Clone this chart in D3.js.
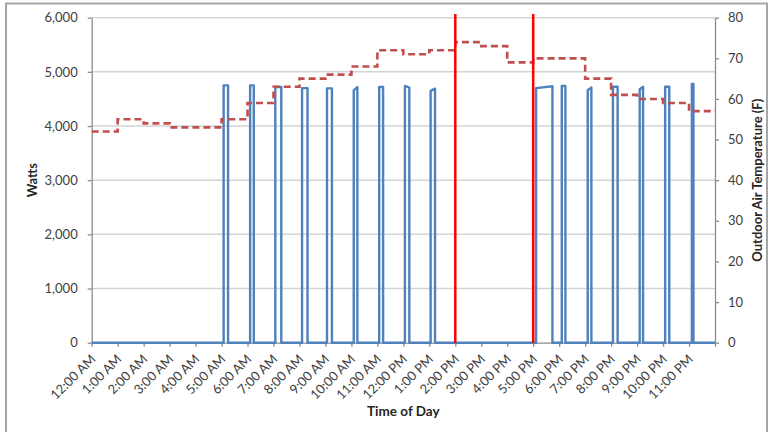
<!DOCTYPE html>
<html><head><meta charset="utf-8">
<script src="https://cdn.jsdelivr.net/npm/d3@7"></script>
<style>
body{margin:0;background:#fff;}
text{font-family:Lato,"Open Sans",sans-serif;}
</style>
</head><body>
<svg id="c" width="774" height="432"></svg>
<script>
// ---- data ----
const hourLabels = ["12:00 AM","1:00 AM","2:00 AM","3:00 AM","4:00 AM","5:00 AM","6:00 AM","7:00 AM","8:00 AM","9:00 AM","10:00 AM","11:00 AM","12:00 PM","1:00 PM","2:00 PM","3:00 PM","4:00 PM","5:00 PM","6:00 PM","7:00 PM","8:00 PM","9:00 PM","10:00 PM","11:00 PM"];
const wattTicks = [0,1000,2000,3000,4000,5000,6000];
const tempTicks = [0,10,20,30,40,50,60,70,80];
// hourly outdoor air temperature (F), value held for the hour
const tempHour = [0,1,2,3,4,5,6,7,8,9,10,11,12,13,14,15,16,17,18,19,20,21,22,23,24];
const tempF    = [52,55,54,53,53,55,59,63,65,66,68,72,71,72,74,73,69,70,70,65,61,60,59,57,57];
// compressor / load cycles (hours of day) and power (W)
const spikeOn   = [5.08,6.10,7.07,8.10,9.06,10.09,11.07,12.06,13.05,17.11,18.10,19.10,20.07,21.10,22.08,23.11];
const spikeOff  = [5.25,6.24,7.30,8.31,9.25,10.23,11.22,12.23,13.22,17.74,18.24,19.24,20.25,21.23,22.24,23.17];
const spikeOnW  = [4750,4750,4720,4700,4695,4660,4720,4740,4650,4700,4740,4660,4725,4680,4725,4775];
const spikeOffW = [4750,4750,4720,4700,4695,4720,4720,4710,4690,4735,4740,4710,4725,4725,4725,4775];
// demand-response window markers
const markerHours = [14,17];
const markerTopW = 6070;

// ---- chart ----
const svg = d3.select("#c");
const L = 91.7, R = 715, T = 17.7, B = 342.7;
const x = d3.scaleLinear().domain([0,24]).range([L,R]);
const yW = d3.scaleLinear().domain([0,6000]).range([B,T]);
const yT = d3.scaleLinear().domain([0,80]).range([B,T]);

// frame
svg.append("rect").attr("x",6).attr("y",3.5).attr("width",761).attr("height",440)
  .attr("fill","none").attr("stroke","#a6a6a6").attr("stroke-width",2);

// gridlines
svg.append("g").selectAll("line").data(wattTicks.filter(d=>d>0)).join("line")
  .attr("x1",L).attr("x2",R).attr("y1",d=>yW(d)).attr("y2",d=>yW(d))
  .attr("stroke","#d3d3d3").attr("stroke-width",1.5);

function styleAxis(g, fs){
  g.select(".domain").attr("stroke","#8c8c8c").attr("stroke-width",1.3);
  g.selectAll(".tick line").attr("stroke","#8c8c8c").attr("stroke-width",1.3);
  g.selectAll("text").attr("fill","#404040").style("font-size",fs).style("font-family","Lato,'Open Sans',sans-serif");
}

const gl = svg.append("g").attr("transform",`translate(${L},0)`)
  .call(d3.axisLeft(yW).tickValues(wattTicks).tickFormat(d3.format(",")).tickSize(4).tickSizeOuter(0).tickPadding(10));
styleAxis(gl,"13px");

const gr = svg.append("g").attr("transform",`translate(${R},0)`)
  .call(d3.axisRight(yT).tickValues(tempTicks).tickSize(4).tickSizeOuter(0).tickPadding(9));
styleAxis(gr,"13px");

const gb = svg.append("g").attr("transform",`translate(0,${B})`)
  .call(d3.axisBottom(x).tickValues(d3.range(0,25)).tickFormat(d=>hourLabels[d]||"").tickSize(4).tickSizeOuter(0));
styleAxis(gb,"13px");
gb.selectAll("text").attr("x",0).attr("y",0).attr("dy","0.35em")
  .attr("text-anchor","end").attr("transform","translate(1,14) rotate(-45)");

// power line
const wattPts = [[0,0]];
spikeOn.forEach((s,i)=>{
  wattPts.push([s,0],[s,spikeOnW[i]],[spikeOff[i],spikeOffW[i]],[spikeOff[i],0]);
});
wattPts.push([24,0]);
svg.append("path").datum(wattPts)
  .attr("d",d3.line().x(d=>x(d[0])).y(d=>yW(d[1])))
  .attr("fill","none").attr("stroke","#4f81bd").attr("stroke-width",2.4)
  .attr("stroke-linejoin","round");

// temperature line
svg.append("path").datum(tempHour.map((h,i)=>[h,tempF[i]]))
  .attr("d",d3.line().curve(d3.curveStepAfter).x(d=>x(d[0])).y(d=>yT(d[1])))
  .attr("fill","none").attr("stroke","#c0504d").attr("stroke-width",2.6)
  .attr("stroke-dasharray","7,4");

// markers
svg.append("g").selectAll("line").data(markerHours).join("line")
  .attr("x1",d=>x(d)).attr("x2",d=>x(d)).attr("y1",yW(0)).attr("y2",yW(markerTopW))
  .attr("stroke","#ff0000").attr("stroke-width",2.5);

// titles
svg.append("text").attr("transform",`translate(37,${(T+B)/2}) rotate(-90)`)
  .attr("text-anchor","middle").attr("fill","#262626").style("font-size","13px").style("font-weight","bold").text("Watts");
svg.append("text").attr("transform",`translate(757,${(T+B)/2}) rotate(-90)`)
  .attr("text-anchor","middle").attr("dy","0.35em").attr("fill","#262626").style("font-size","13px").style("font-weight","bold").text("Outdoor Air Temperature (F)");
svg.append("text").attr("x",(L+R)/2).attr("y",416)
  .attr("text-anchor","middle").attr("fill","#262626").style("font-size","13.5px").style("font-weight","bold").text("Time of Day");
</script>
</body></html>
